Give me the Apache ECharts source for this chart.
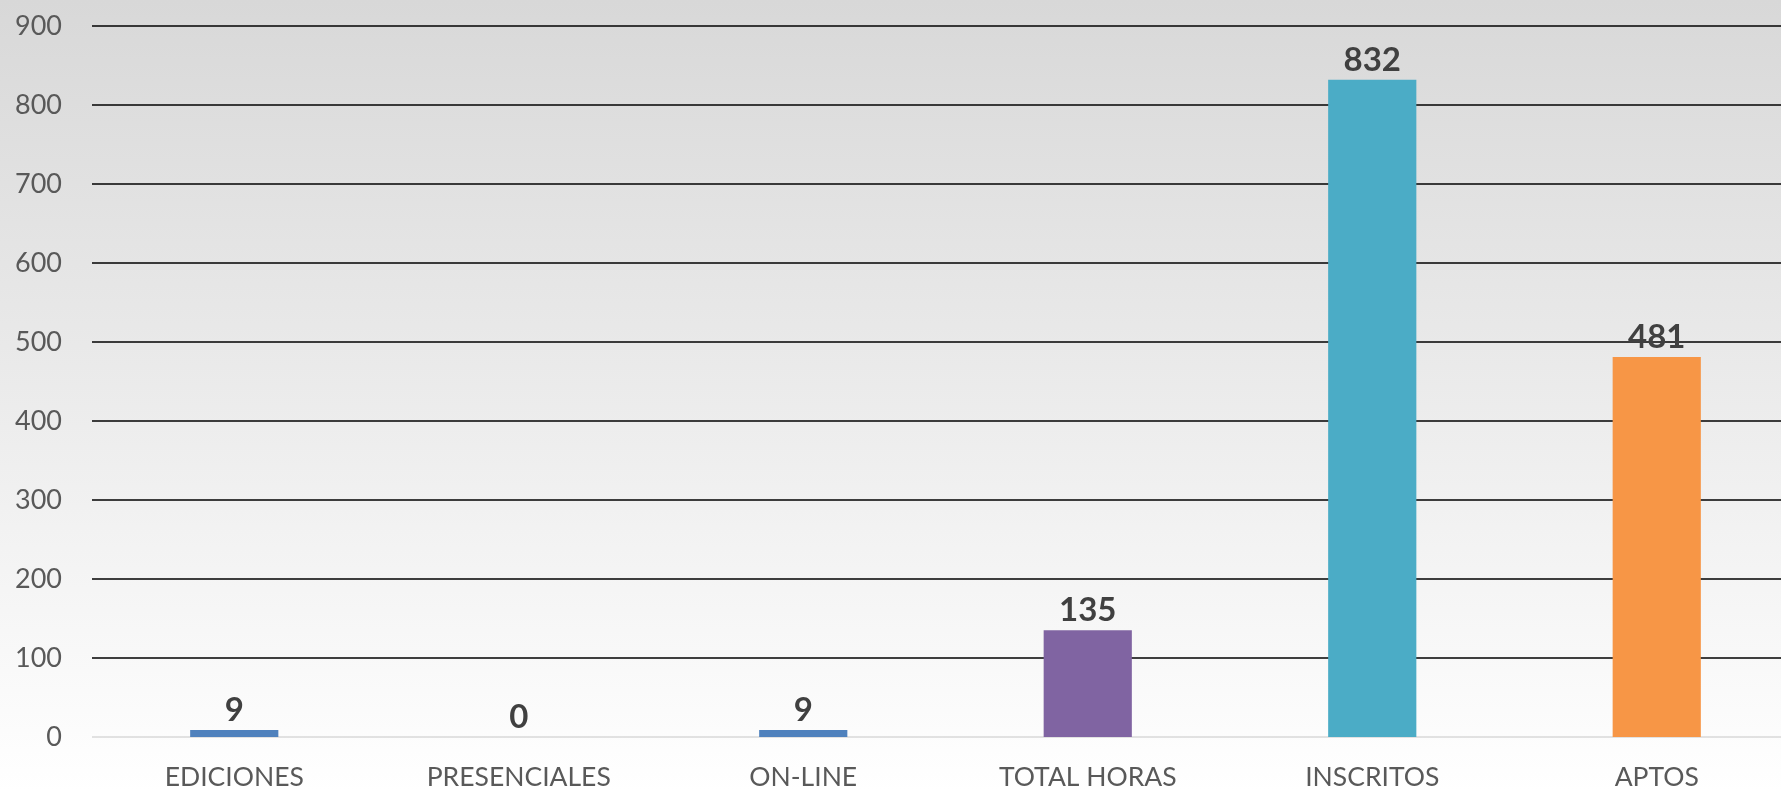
<!DOCTYPE html>
<html>
<head>
<meta charset="utf-8">
<script src="https://cdn.jsdelivr.net/npm/echarts@6/dist/echarts.min.js"></script>
<style>
  html, body { margin: 0; padding: 0; }
  #chart { width: 1781px; height: 792px; }
</style>
</head>
<body>
<div id="chart"></div>
<script>
var categories = ["EDICIONES", "PRESENCIALES", "ON-LINE", "TOTAL HORAS", "INSCRITOS", "APTOS"];
var values = [9, 0, 9, 135, 832, 481];
var barColors = ["#4f81bd", "#4f81bd", "#4f81bd", "#8064a2", "#4bacc6", "#f79646"];

var chart = echarts.init(document.getElementById("chart"));

// first split line (the zero line) is light grey, the rest black
var gridColors = ["#d9d9d9"];
for (var i = 0; i < 9; i++) gridColors.push("#000000");

chart.setOption({
  animation: false,
  backgroundColor: {
    type: "linear", x: 0, y: 0, x2: 0, y2: 1,
    colorStops: [
      { offset: 0, color: "#d8d8d8" },
      { offset: 1, color: "#ffffff" }
    ]
  },
  // plot area runs a little past the right edge of the picture
  grid: {
    left: 92, right: -18, top: 26, bottom: 55,
    containLabel: false,
    outerBoundsMode: "none"
  },
  xAxis: {
    type: "category",
    data: categories,
    axisLine: { show: false },
    axisTick: { show: false },
    axisLabel: {
      color: "#595959",
      fontFamily: "Lato",
      fontSize: 26.5,
      margin: 27
    }
  },
  yAxis: {
    type: "value",
    min: 0,
    max: 900,
    interval: 100,
    axisLine: { show: false },
    axisTick: { show: false },
    axisLabel: {
      color: "#595959",
      fontFamily: "Lato",
      fontSize: 27,
      margin: 30
    },
    splitLine: { lineStyle: { color: gridColors, width: 1.5 } }
  },
  series: [{
    type: "bar",
    barWidth: "31%",
    data: values.map(function (v, i) {
      return { value: v, itemStyle: { color: barColors[i] } };
    }),
    label: {
      show: true,
      position: "top",
      distance: 3,
      color: "#404040",
      fontFamily: "Lato",
      fontWeight: "bold",
      fontSize: 33
    }
  }]
});
</script>
</body>
</html>
